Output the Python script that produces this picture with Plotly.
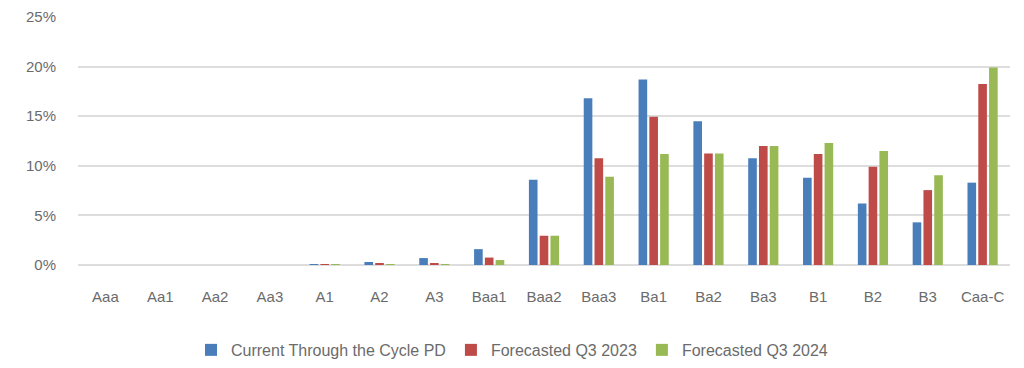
import plotly.graph_objects as go

# Rating grades on the x axis
ratings = ["Aaa", "Aa1", "Aa2", "Aa3", "A1", "A2", "A3", "Baa1", "Baa2",
           "Baa3", "Ba1", "Ba2", "Ba3", "B1", "B2", "B3", "Caa-C"]

# Probability of default by grade (%)
current_ttc_pd = [0, 0, 0, 0, 0.1, 0.3, 0.7, 1.6, 8.6,
                  16.8, 18.7, 14.5, 10.75, 8.8, 6.2, 4.3, 8.3]
forecast_q3_2023 = [0, 0, 0, 0, 0.1, 0.15, 0.15, 0.75, 2.95,
                    10.75, 14.95, 11.25, 12.0, 11.2, 9.9, 7.55, 18.25]
forecast_q3_2024 = [0, 0, 0, 0, 0.1, 0.1, 0.1, 0.5, 2.95,
                    8.9, 11.2, 11.25, 12.0, 12.3, 11.5, 9.05, 19.9]

series_names = ["Current Through the Cycle PD", "Forecasted Q3 2023", "Forecasted Q3 2024"]
series_colors = ["#4A7EBB", "#BE4B48", "#98B954"]

font_family = "Liberation Sans, Arial, sans-serif"
text_color = "#6B6B6B"

fig = go.Figure()
for name, vals, color in zip(series_names,
                             [current_ttc_pd, forecast_q3_2023, forecast_q3_2024],
                             series_colors):
    fig.add_trace(go.Bar(x=ratings, y=vals, name=name,
                         marker=dict(color=color, line=dict(width=0))))

fig.update_layout(
    width=1024, height=368,
    margin=dict(l=78, r=14, t=17, b=103, autoexpand=False),
    paper_bgcolor="white", plot_bgcolor="white",
    barmode="group", bargap=0.41, bargroupgap=0.2,
    font=dict(family=font_family, size=15, color=text_color),
    showlegend=True,
    legend=dict(orientation="h", x=0.5, xref="container", xanchor="center",
                y=0.049, yref="container", yanchor="middle",
                font=dict(size=16, color=text_color), itemwidth=30,
                traceorder="normal"),
)
fig.update_xaxes(showgrid=False, showline=False, zeroline=False, ticks="",
                 automargin=False, ticklabelstandoff=21,
                 tickfont=dict(size=15, color=text_color))
fig.update_yaxes(range=[0, 25], dtick=5, ticksuffix="%", showgrid=True,
                 gridcolor="#DDDDDD", gridwidth=1.5, zeroline=True,
                 zerolinecolor="#DDDDDD", zerolinewidth=1.5, ticks="",
                 automargin=False, ticklabelstandoff=21,
                 tickfont=dict(size=15, color=text_color))

fig.write_html("out.html")
